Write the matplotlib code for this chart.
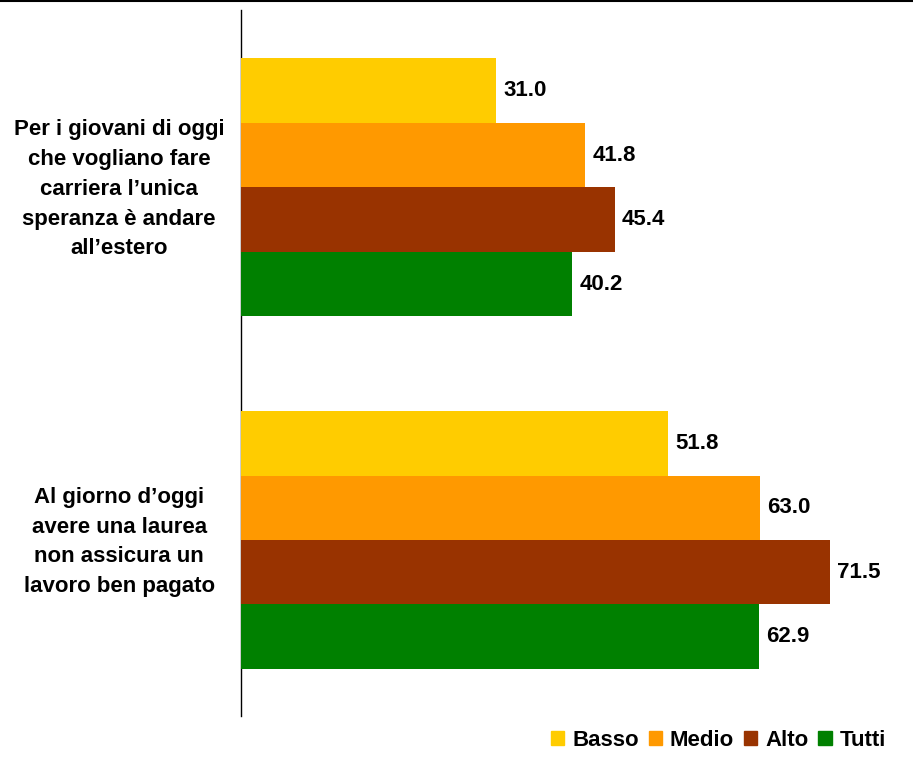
import numpy as np
import matplotlib
matplotlib.use("Agg")
import matplotlib.pyplot as plt
from matplotlib.lines import Line2D
from matplotlib.patches import Patch

plt.rcParams["font.family"] = ["Liberation Sans", "DejaVu Sans"]
plt.rcParams["font.weight"] = "bold"

# data
categories = [
    "Per i giovani di oggi\nche vogliano fare\ncarriera l\u2019unica\nsperanza \u00e8 andare\nall\u2019estero",
    "Al giorno d\u2019oggi\navere una laurea\nnon assicura un\nlavoro ben pagato",
]
series = ["Basso", "Medio", "Alto", "Tutti"]
basso = [31.0, 51.8]
medio = [41.8, 63.0]
alto = [45.4, 71.5]
tutti = [40.2, 62.9]
colors = ["#FFCC00", "#FF9900", "#993300", "#008000"]

values = [basso, medio, alto, tutti]

fig = plt.figure(figsize=(9.13, 7.65), dpi=100)
ax = fig.add_axes([0.264, 0.064, 0.722, 0.923])

centers = np.array([2.75, 8.22])
offsets = [-1.5, -0.5, 0.5, 1.5]
for vals, off, col, name in zip(values, offsets, colors, series):
    bars = ax.barh(centers + off, vals, height=1.0, color=col, label=name, zorder=2)
    for b, v in zip(bars, vals):
        ax.text(v + 0.85, b.get_y() + b.get_height() / 2, f"{v:.1f}",
                va="center", ha="left", fontsize=16, fontweight="bold")

ax.set_xlim(0, 80)
ax.set_ylim(10.95, 0)
ax.set_xticks([])
ax.set_yticks([])
for s in ["top", "right", "bottom"]:
    ax.spines[s].set_visible(False)
ax.spines["left"].set_linewidth(1.0)
ax.spines["left"].set_zorder(1)

for c, lab in zip(centers, categories):
    ax.text(-0.185, c + 0.03, lab, transform=ax.get_yaxis_transform(), ha="center",
            va="center", multialignment="center", fontsize=16,
            fontweight="bold", linespacing=1.55)

# top border
fig.add_artist(Line2D([0, 1], [0.999, 0.999], color="black", linewidth=1.5,
                      transform=fig.transFigure))

handles = [Patch(color=c, label=n) for c, n in zip(colors, series)]
fig.legend(handles=handles, loc="center right", bbox_to_anchor=(0.98, 1 - 740 / 765),
           ncol=4, frameon=False, fontsize=16, handlelength=0.6, handleheight=0.6,
           handletextpad=0.35, columnspacing=0.45, borderaxespad=0)

fig.savefig("out.png", dpi=100)
